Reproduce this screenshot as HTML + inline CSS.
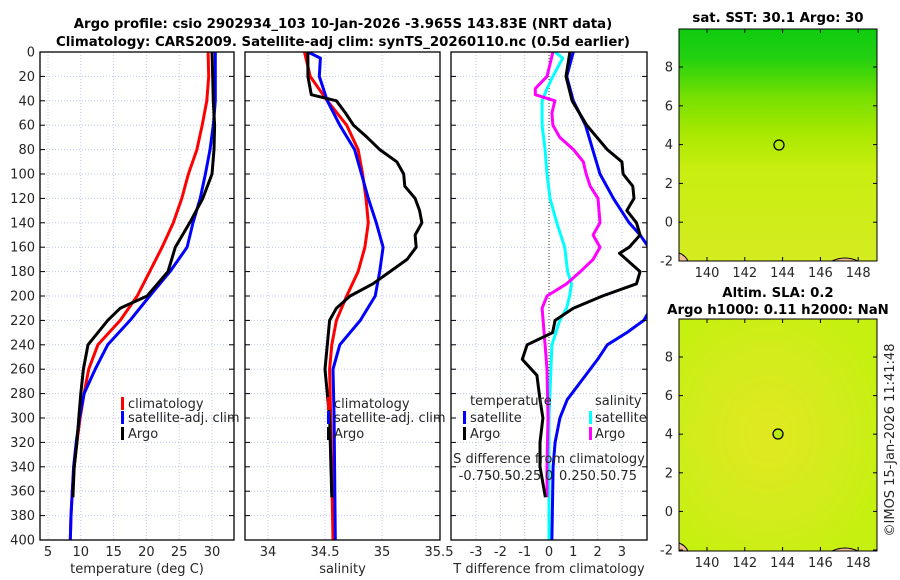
<!DOCTYPE html>
<html><head><meta charset="utf-8"><style>
html,body{margin:0;padding:0;background:#fff;}
svg{display:block;font-family:"DejaVu Sans","Liberation Sans",sans-serif;}
.t{font-size:13px;fill:#262626;}
.b{font-size:13.3px;font-weight:bold;fill:#000;}
</style></head><body>
<svg id="c" width="900" height="580" viewBox="0 0 900 580" xmlns="http://www.w3.org/2000/svg">
<defs>
<linearGradient id="g1" x1="0" y1="0" x2="0" y2="1">
<stop offset="0" stop-color="#10cc10"/><stop offset="0.12" stop-color="#20d010"/><stop offset="0.3" stop-color="#78e000"/><stop offset="0.45" stop-color="#a8e800"/><stop offset="0.6" stop-color="#c8ee10"/><stop offset="1" stop-color="#d4ec20"/>
</linearGradient>
<radialGradient id="g2" cx="0.45" cy="0.5" r="0.6">
<stop offset="0" stop-color="#e2e820"/><stop offset="0.6" stop-color="#d2ec1c"/><stop offset="1" stop-color="#c6f010"/>
</radialGradient>
<clipPath id="cp1"><rect x="40" y="52" width="194" height="488"/></clipPath>
<clipPath id="cp2"><rect x="245" y="52" width="195" height="488"/></clipPath>
<clipPath id="cp3"><rect x="451" y="52" width="196" height="488"/></clipPath>
</defs>
<text class="b" x="343" y="28" text-anchor="middle">Argo profile: csio 2902934_103 10-Jan-2026 -3.965S 143.83E (NRT data)</text>
<text class="b" x="343" y="46" text-anchor="middle">Climatology: CARS2009. Satellite-adj clim: synTS_20260110.nc (0.5d earlier)</text>
<g id="grid"></g>
<g id="marks"></g>
<g id="axes"></g>
<g id="legends">
<rect x="121" y="397" width="3" height="13" fill="#ff0000"/>
<text class="t" x="128" y="408">climatology</text>
<rect x="121" y="411" width="3" height="13" fill="#0000ff"/>
<text class="t" x="128" y="422">satellite-adj. clim</text>
<rect x="121" y="427" width="3" height="13" fill="#000"/>
<text class="t" x="128" y="438">Argo</text>
<rect x="327" y="397" width="3" height="13" fill="#ff0000"/>
<text class="t" x="334" y="408">climatology</text>
<rect x="327" y="411" width="3" height="13" fill="#0000ff"/>
<text class="t" x="334" y="422">satellite-adj. clim</text>
<rect x="327" y="427" width="3" height="13" fill="#000"/>
<text class="t" x="334" y="438">Argo</text>
<text class="t" x="470" y="405">temperature</text>
<rect x="463" y="411" width="3" height="13" fill="#0000ff"/>
<text class="t" x="470" y="422">satellite</text>
<rect x="463" y="427" width="3" height="13" fill="#000"/>
<text class="t" x="470" y="438">Argo</text>
<text class="t" x="595" y="405">salinity</text>
<rect x="589" y="411" width="3" height="13" fill="#00ffff"/>
<text class="t" x="595" y="422">satellite</text>
<rect x="589" y="427" width="3" height="13" fill="#ff00ff"/>
<text class="t" x="595" y="438">Argo</text>
</g>
<text class="t" x="549" y="463" text-anchor="middle">S difference from climatology</text>
<g id="sdiff"></g>
<g id="maps">
<text class="b" x="778" y="22" text-anchor="middle">sat. SST: 30.1 Argo: 30</text>
<rect x="679" y="29" width="198" height="232" fill="url(#g1)"/>
<text class="b" x="778" y="297" text-anchor="middle">Altim. SLA: 0.2</text>
<text class="b" x="778" y="314" text-anchor="middle">Argo h1000: 0.11 h2000: NaN</text>
<rect x="679" y="319" width="198" height="232" fill="url(#g2)"/>
<circle cx="779" cy="145" r="5" fill="none" stroke="#000" stroke-width="1.3"/>
<circle cx="778" cy="434" r="5" fill="#b8ec10" stroke="#000" stroke-width="1.3"/>
<path d="M679 253 Q685 255 688 261 L679 261Z M832 261 Q845 255 858 261Z" fill="#f0c090" stroke="#000" stroke-width="1"/>
<path d="M679 543 Q685 545 688 551 L679 551Z M832 551 Q845 545 858 551Z" fill="#f0c090" stroke="#000" stroke-width="1"/>
<g id="mapaxes"></g>
</g>
<text class="t" transform="translate(894,440) rotate(-90)" text-anchor="middle">©IMOS 15-Jan-2026 11:41:48</text>
</svg>
<script>
// ---- data ----
const tClimDepth=[0,20,40,60,80,100,120,140,160,180,200,220,240,260,280,300,320,340,360,380,400];
const tClim=[29.4,29.5,29.2,28.5,27.7,26.4,25.4,24.1,22.4,20.5,18.6,16.0,12.6,11.2,10.5,9.9,9.4,9.0,8.7,8.5,8.4];
const tSat=[30.5,30.5,30.5,30.2,29.7,29.0,28.2,27.1,26.2,23.6,20.5,17.5,14.1,12.2,10.5,9.8,9.3,8.9,8.7,8.5,8.4];
const argoDepth=[0,20,40,60,80,100,120,140,160,180,200,210,220,240,260,280,300,320,340,365];
const tArgo=[30.0,30.1,30.2,30.4,30.3,30.0,28.6,26.6,24.4,23.3,20.1,16.0,14.1,11.1,10.4,10.0,9.7,9.4,9.0,8.8];
const sClimDepth=[0,20,40,60,80,100,120,140,160,180,200,220,240,260,300,400];
const sClim=[34.32,34.37,34.52,34.69,34.79,34.83,34.86,34.88,34.85,34.79,34.69,34.6,34.56,34.54,34.55,34.57];
const sSatDepth=[0,5,20,40,60,80,100,120,140,160,180,200,220,240,260,300,400];
const sSat=[34.35,34.46,34.45,34.52,34.63,34.76,34.82,34.88,34.95,35.01,34.98,34.94,34.81,34.63,34.57,34.58,34.59];
const sArgoDepth=[0,20,35,40,50,60,70,80,90,100,110,120,130,140,150,160,170,180,190,200,210,220,240,260,300,365];
const sArgo=[34.35,34.35,34.38,34.6,34.68,34.75,34.87,34.98,35.13,35.19,35.2,35.29,35.33,35.35,35.29,35.3,35.22,35.07,34.92,34.72,34.6,34.54,34.52,34.5,34.54,34.56];
const dTDepth=[0,20,40,60,80,100,120,140,150,160,175,190,205,215,220,230,240,252,285,300,320,340,400];
const dTSat=[1.0,0.73,1.0,1.5,1.8,2.1,2.65,3.3,3.75,4.1,4.6,4.8,4.5,4.05,3.9,3.2,2.4,2.0,0.75,0.45,0.25,0.17,0.12];
const dTArgoDepth=[0,20,40,60,80,90,100,110,120,130,140,150,160,165,180,190,200,210,220,230,240,252,265,285,300,320,340,365];
const dTArgo=[0.86,0.7,0.95,1.55,2.4,3.0,3.05,3.45,3.5,3.2,3.6,3.75,3.3,2.9,3.75,3.6,2.2,1.0,0.25,0.15,-0.9,-1.1,-0.5,-0.37,-0.25,-0.37,-0.37,-0.15];
const dSSatDepth=[0,5,20,30,40,60,80,100,120,140,160,180,190,200,210,220,240,300,400];
const dSSat=[0.06,0.14,0.04,-0.02,-0.07,-0.07,-0.04,-0.02,0.01,0.08,0.16,0.19,0.23,0.21,0.18,0.11,0.03,0.0,0.0];
const dSArgoDepth=[0,10,20,30,35,40,50,60,70,80,90,100,110,120,140,150,160,170,180,190,200,210,220,240,260,300,340,365];
const dSArgo=[0.04,0.01,-0.02,-0.14,-0.14,0.06,0.03,0.04,0.11,0.25,0.35,0.38,0.42,0.5,0.52,0.45,0.52,0.45,0.32,0.18,-0.02,-0.07,-0.06,-0.04,-0.02,-0.01,-0.02,-0.02];
const depthTicks=[0,20,40,60,80,100,120,140,160,180,200,220,240,260,280,300,320,340,360,380,400];
const tTicks=[5,10,15,20,25,30];
const sTicks=[34,34.5,35,35.5];
const dTTicks=[-3,-2,-1,0,1,2,3];
const sDiffTicks=[-0.75,-0.5,-0.25,0,0.25,0.5,0.75];
const latTicks=[-2,0,2,4,6,8];
const lonTicks=[140,142,144,146,148];
// ---- axes ----
const NS='http://www.w3.org/2000/svg';
const Y=d=>52+d*1.22;
const XT=v=>48+(v-5)*6.56;
const XS=v=>268+(v-34)*114;
const XD=v=>549+v*24.3;
const XSD=v=>549+v*98;
const LON=v=>707+(v-140)*18.9;
const LAT1=v=>261-(v+2)*19.4;
const LAT2=v=>550-(v+2)*19.3;
function mk(tag,attrs,parent){const e=document.createElementNS(NS,tag);for(const k in attrs)e.setAttribute(k,attrs[k]);parent.appendChild(e);return e;}
const grid=document.getElementById('grid'),marks=document.getElementById('marks'),axes=document.getElementById('axes');
const panels=[{x0:40,x1:234,ticks:tTicks,f:XT,title:'temperature (deg C)',n:'temperature'},
{x0:245,x1:440,ticks:sTicks,f:XS,title:'salinity',n:'salinity'},
{x0:451,x1:647,ticks:dTTicks,f:XD,title:'T difference from climatology',n:'t-difference'}];
panels.forEach((p,pi)=>{
  const gg=[...p.ticks]; if(pi==2){gg.push(-4,4);}
  gg.forEach(v=>{const x=p.f(v);if(x>p.x0+1&&x<p.x1-1){const l=mk('line',{x1:x,x2:x,y1:52,y2:540,stroke:'#c0c8ec','stroke-width':1,'stroke-dasharray':'1,2'},grid);}});
  depthTicks.forEach(d=>{if(d>0&&d<400){const l=mk('line',{x1:p.x0,x2:p.x1,y1:Y(d),y2:Y(d),stroke:'#c0c8ec','stroke-width':1,'stroke-dasharray':'1,2'},grid);}
    mk('line',{x1:p.x0,x2:p.x0+5,y1:Y(d),y2:Y(d),stroke:'#000'},axes);mk('line',{x1:p.x1-5,x2:p.x1,y1:Y(d),y2:Y(d),stroke:'#000'},axes);});
  const r=mk('rect',{x:p.x0,y:52,width:p.x1-p.x0,height:488,fill:'none',stroke:'#000','stroke-width':1.3},axes);
  
  p.ticks.forEach(v=>{const t=mk('text',{x:p.f(v),y:556,'text-anchor':'middle',class:'t'},axes);t.textContent=String(v);
    });
  const tt=mk('text',{x:(p.x0+p.x1)/2,y:573,'text-anchor':'middle',class:'t'},axes);tt.textContent=p.title;
  
});
depthTicks.forEach(d=>{const t=mk('text',{x:35,y:Y(d)+4.5,'text-anchor':'end',class:'t'},axes);t.textContent=String(d);
  });
const zl=mk('line',{x1:XD(0),x2:XD(0),y1:52,y2:540,stroke:'#333','stroke-width':1,'stroke-dasharray':'1,2'},grid);

const sd=document.getElementById('sdiff');
sDiffTicks.forEach(v=>{const t=mk('text',{x:XSD(v),y:480,'text-anchor':'middle',class:'t'},sd);t.textContent=String(v);
  });
function line(depths,vals,fx,color,clip,name){
  const pts=depths.map((d,i)=>fx(vals[i]).toFixed(1)+','+Y(d).toFixed(1)).join(' ');
  const pl=mk('polyline',{points:pts,fill:'none',stroke:color,'stroke-width':3,'stroke-linejoin':'round','clip-path':'url(#'+clip+')'},marks);
  
  
}
line(tClimDepth,tClim,XT,'#ff0000','cp1','t-climatology-line');
line(tClimDepth,tSat,XT,'#0000ff','cp1','t-satellite-line');
line(argoDepth,tArgo,XT,'#000','cp1','t-argo-line');
line(sClimDepth,sClim,XS,'#ff0000','cp2','s-climatology-line');
line(sSatDepth,sSat,XS,'#0000ff','cp2','s-satellite-line');
line(sArgoDepth,sArgo,XS,'#000','cp2','s-argo-line');
line(dSSatDepth,dSSat,XSD,'#00ffff','cp3','s-diff-satellite-line');
line(dSArgoDepth,dSArgo,XSD,'#ff00ff','cp3','s-diff-argo-line');
line(dTDepth,dTSat,XD,'#0000ff','cp3','t-diff-satellite-line');
line(dTArgoDepth,dTArgo,XD,'#000','cp3','t-diff-argo-line');
// map axes
const ma=document.getElementById('mapaxes');
[[29,261,LAT1],[319,551,LAT2]].forEach(([y0,y1,LF],mi)=>{
  mk('rect',{x:679,y:y0,width:198,height:y1-y0,fill:'none',stroke:'#000','stroke-width':1},ma);
  latTicks.forEach(v=>{const y=LF(v);mk('line',{x1:679,x2:683,y1:y,y2:y,stroke:'#000'},ma);mk('line',{x1:873,x2:877,y1:y,y2:y,stroke:'#000'},ma);
    const t=mk('text',{x:673,y:y+4.5,'text-anchor':'end',class:'t'},ma);t.textContent=String(v);
    });
  lonTicks.forEach(v=>{const x=LON(v);mk('line',{x1:x,x2:x,y1:y1-4,y2:y1,stroke:'#000'},ma);mk('line',{x1:x,x2:x,y1:y0,y2:y0+4,stroke:'#000'},ma);
    const t=mk('text',{x:x,y:y1+16,'text-anchor':'middle',class:'t'},ma);t.textContent=String(v);
    });
});
</script>
</body></html>
